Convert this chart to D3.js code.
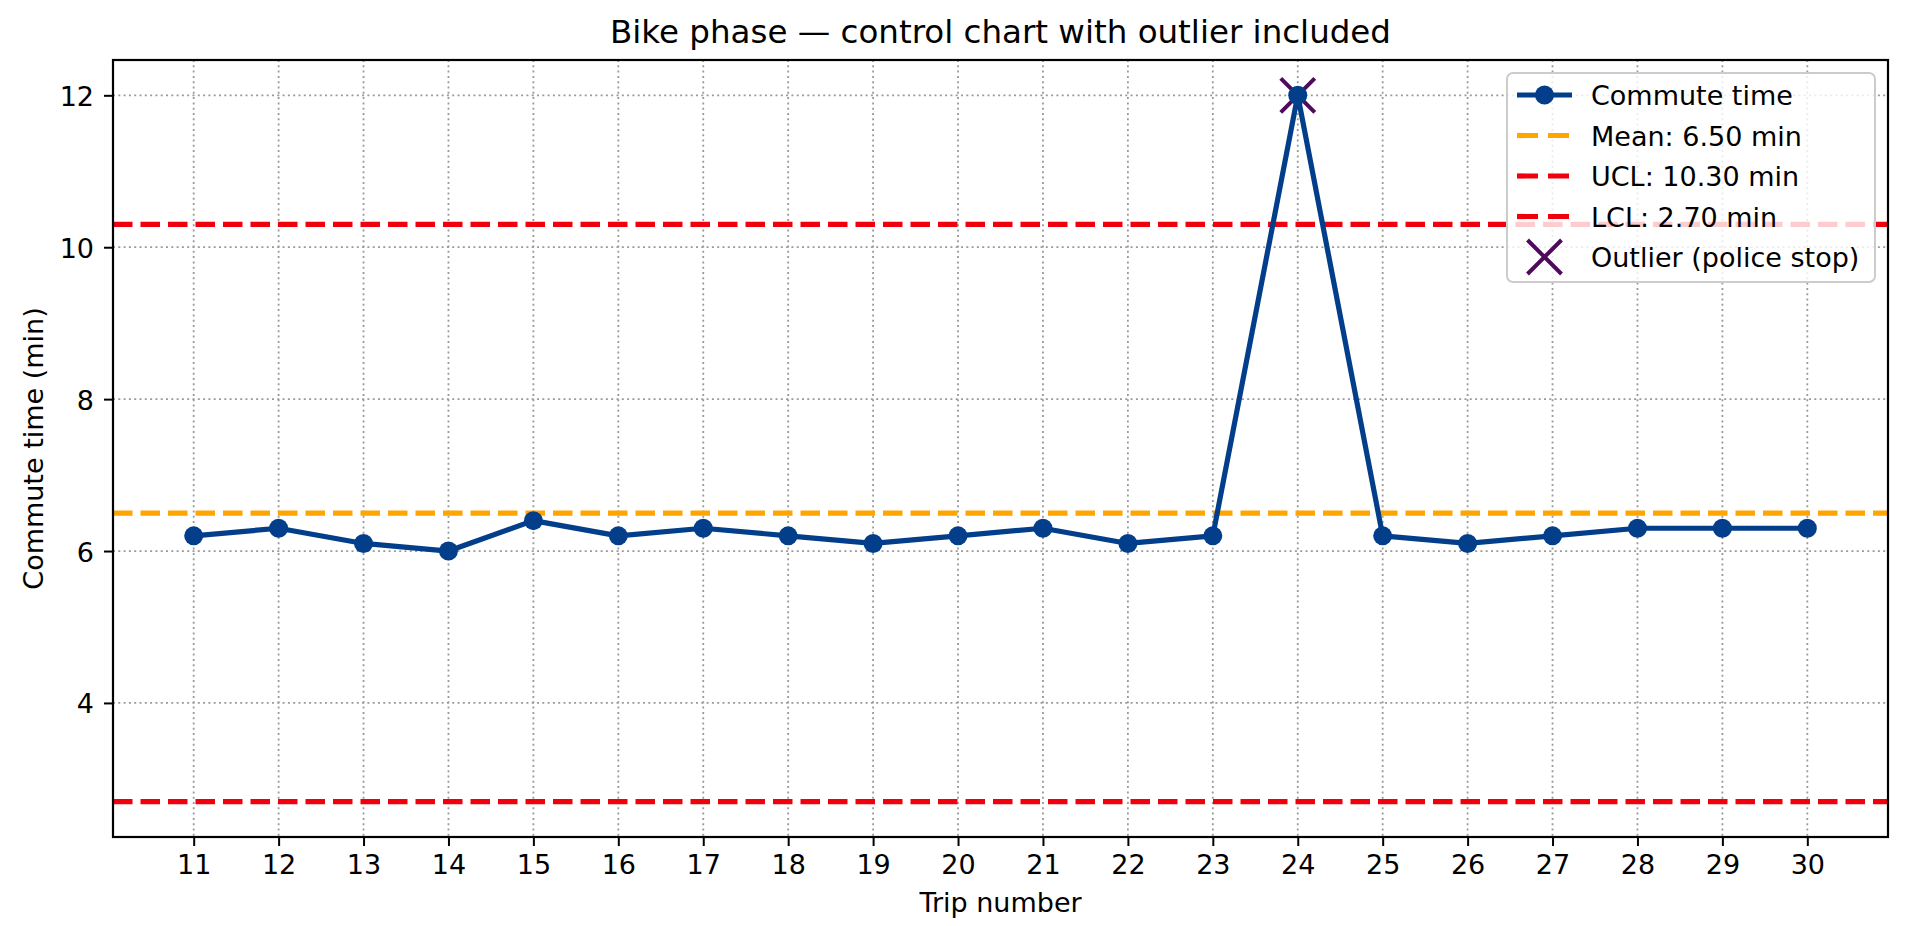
<!DOCTYPE html>
<html>
<head>
<meta charset="utf-8">
<script src="https://cdn.jsdelivr.net/npm/d3@7"></script>
<style>
    html, body { margin: 0; padding: 0; background: #fff; overflow: hidden; }
    svg { display: block; }
    text { font-family: "DejaVu Sans", sans-serif; fill: #000; }
</style>
</head>
<body>
<svg width="1920" height="926" id="chart"></svg>
<script>
// data
const trips = [11, 12, 13, 14, 15, 16, 17, 18, 19, 20, 21, 22, 23, 24, 25, 26, 27, 28, 29, 30];
const commute = [6.2, 6.3, 6.1, 6.0, 6.4, 6.2, 6.3, 6.2, 6.1, 6.2, 6.3, 6.1, 6.2, 12.0, 6.2, 6.1, 6.2, 6.3, 6.3, 6.3];
const limitNames = ['Mean', 'UCL', 'LCL'];
const limitValues = [6.50, 10.30, 2.70];
const outlierTrips = [24];
const outlierValues = [12.0];
const yTicks = [4, 6, 8, 10, 12];

const blue = '#023e8a';
const purple = '#4f0a5c';
const limitColors = {Mean: '#ffa500', UCL: '#f0000c', LCL: '#f0000c'};

const svg = d3.select('#chart');
const width = +svg.attr('width');
const height = +svg.attr('height');
const margin = {top: 60, right: 32, bottom: 89, left: 113};
const innerWidth = width - margin.left - margin.right;
const innerHeight = height - margin.top - margin.bottom;

// matplotlib style 5% margins
const xPad = (d3.max(trips) - d3.min(trips)) * 0.05;
const yMin = d3.min([...commute, ...limitValues]);
const yMax = d3.max([...commute, ...limitValues]);
const yPad = (yMax - yMin) * 0.05;

const xScale = d3.scaleLinear().domain([d3.min(trips) - xPad, d3.max(trips) + xPad]).range([0, innerWidth]);
const yScale = d3.scaleLinear().domain([yMin - yPad, yMax + yPad]).range([innerHeight, 0]);

const g = svg.append('g').attr('transform', `translate(${margin.left}, ${margin.top})`);

// dotted grid
const grid = g.append('g').attr('stroke', '#9a9a9a').attr('stroke-width', 1.8).attr('stroke-dasharray', '2,3.3');
grid.selectAll('.vx').data(trips).enter().append('line')
    .attr('x1', d => xScale(d)).attr('x2', d => xScale(d)).attr('y1', 0).attr('y2', innerHeight);
grid.selectAll('.hy').data(yTicks).enter().append('line')
    .attr('x1', 0).attr('x2', innerWidth).attr('y1', d => yScale(d)).attr('y2', d => yScale(d));

// mean / control limits
g.selectAll('.limit').data(limitValues).enter().append('line')
    .attr('x1', 0).attr('x2', innerWidth)
    .attr('y1', d => yScale(d)).attr('y2', d => yScale(d))
    .attr('stroke', (d, i) => limitColors[limitNames[i]])
    .attr('stroke-width', 5.2).attr('stroke-dasharray', '19.5,8');

// outlier cross
const crossPath = (cx, cy, r) => `M${cx - r},${cy - r}L${cx + r},${cy + r}M${cx - r},${cy + r}L${cx + r},${cy - r}`;
g.selectAll('.outlier').data(outlierTrips).enter().append('path')
    .attr('d', (d, i) => crossPath(xScale(d), yScale(outlierValues[i]), 17))
    .attr('stroke', purple).attr('stroke-width', 4).attr('fill', 'none');

// commute line
const line = d3.line().x((d, i) => xScale(trips[i])).y(d => yScale(d));
g.append('path').datum(commute).attr('d', line)
    .attr('fill', 'none').attr('stroke', blue).attr('stroke-width', 5.2).attr('stroke-linejoin', 'round');
g.selectAll('.pt').data(commute).enter().append('circle')
    .attr('cx', (d, i) => xScale(trips[i])).attr('cy', d => yScale(d)).attr('r', 9.5)
    .attr('fill', blue);

// axes
const xAxis = g.append('g').attr('transform', `translate(0, ${innerHeight})`)
    .call(d3.axisBottom(xScale).tickValues(trips).tickSize(9).tickPadding(8));
const yAxis = g.append('g')
    .call(d3.axisLeft(yScale).tickValues(yTicks).tickSize(9).tickPadding(10));
[xAxis, yAxis].forEach(a => {
    a.attr('font-size', 27).attr('font-family', '"DejaVu Sans", sans-serif').attr('fill', '#000');
    a.select('.domain').remove();
    a.selectAll('.tick line').attr('stroke', '#000').attr('stroke-width', 2);
});
xAxis.selectAll('.tick text').attr('dy', null).attr('y', 37);
yAxis.selectAll('.tick text').attr('dy', null).attr('y', 10);

g.append('rect').attr('width', innerWidth).attr('height', innerHeight)
    .attr('fill', 'none').attr('stroke', '#000').attr('stroke-width', 2.2);

// labels
svg.append('text').attr('x', margin.left + innerWidth / 2).attr('y', 43)
    .attr('text-anchor', 'middle').attr('font-size', 32.5)
    .text('Bike phase \u2014 control chart with outlier included');
svg.append('text').attr('x', margin.left + innerWidth / 2).attr('y', 912)
    .attr('text-anchor', 'middle').attr('font-size', 27).text('Trip number');
svg.append('text').attr('transform', `translate(43, ${margin.top + innerHeight / 2}) rotate(-90)`)
    .attr('text-anchor', 'middle').attr('font-size', 27).text('Commute time (min)');

// legend
const legendW = 368, legendH = 209, rowH = 40.5;
const lg = g.append('g').attr('transform', `translate(${innerWidth - 13 - legendW}, 13)`);
lg.append('rect').attr('width', legendW).attr('height', legendH).attr('rx', 6)
    .attr('fill', '#fff').attr('fill-opacity', 0.8).attr('stroke', '#cccccc').attr('stroke-width', 2);

const legendItems = [
    {label: 'Commute time', kind: 'line'},
    ...limitNames.map((n, i) => ({label: `${n}: ${limitValues[i].toFixed(2)} min`, kind: 'dash', color: limitColors[n]})),
    {label: 'Outlier (police stop)', kind: 'cross'}
];
const rows = lg.selectAll('.row').data(legendItems).enter().append('g')
    .attr('transform', (d, i) => `translate(0, ${22 + i * rowH})`);
rows.each(function (d) {
    const r = d3.select(this);
    if (d.kind === 'line') {
        r.append('line').attr('x1', 10).attr('x2', 65).attr('stroke', blue).attr('stroke-width', 5.2);
        r.append('circle').attr('cx', 37.5).attr('r', 9.5).attr('fill', blue);
    } else if (d.kind === 'dash') {
        r.append('line').attr('x1', 10).attr('x2', 65).attr('stroke', d.color)
            .attr('stroke-width', 5.2).attr('stroke-dasharray', '21,10');
    } else {
        r.append('path').attr('d', crossPath(37.5, 0, 17)).attr('stroke', purple).attr('stroke-width', 4);
    }
    r.append('text').attr('x', 84).attr('y', 10).attr('font-size', 27).text(d.label);
});
</script>
</body>
</html>
